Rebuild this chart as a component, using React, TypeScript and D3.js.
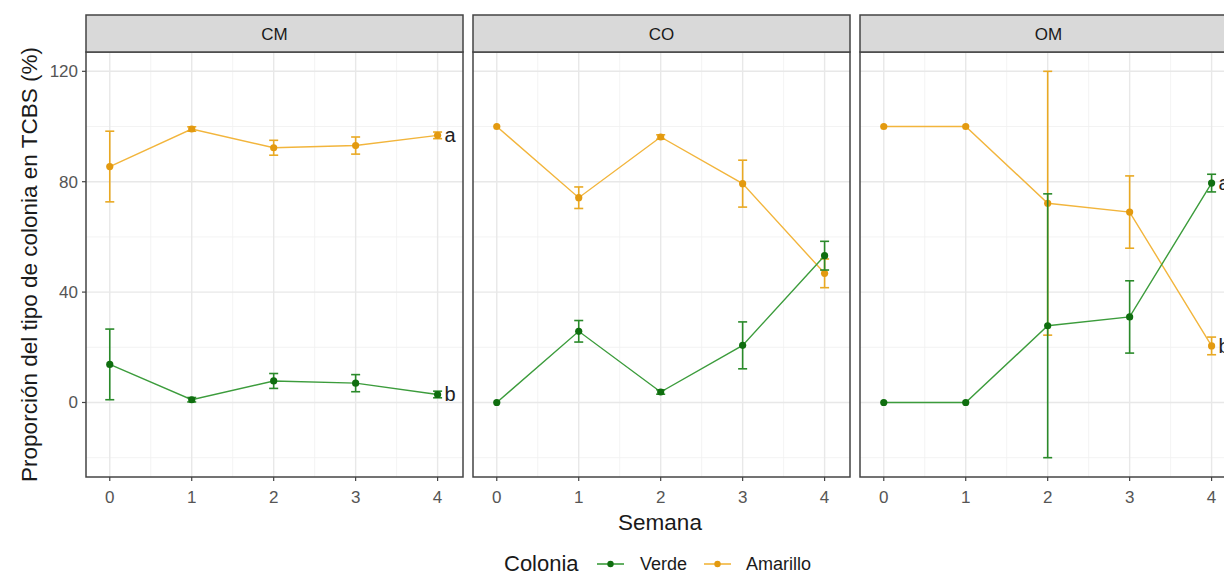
import React from "react";
import * as d3 from "d3";

// Sampling weeks and facets
const weeks = [0, 1, 2, 3, 4];
const facets = ["CM", "CO", "OM"];
const colonias = ["Verde", "Amarillo"];

// Mean proportion (%) of each colony type per week, with its error (±)
const verdeCM = [13.8, 1.0, 7.8, 7.0, 2.9];
const amarilloCM = [85.5, 99.1, 92.3, 93.1, 96.8];
const errCM = [12.8, 0.8, 2.7, 3.1, 1.2];

const verdeCO = [0, 25.8, 3.8, 20.7, 53.2];
const amarilloCO = [100, 74.2, 96.2, 79.3, 46.8];
const errCO = [0, 3.9, 0.8, 8.5, 5.2];

const verdeOM = [0, 0, 27.8, 31.0, 79.5];
const amarilloOM = [100, 100, 72.2, 69.0, 20.5];
const errOM = [0, 0, 47.8, 13.1, 3.2];

// Axis breaks
const yTicks = [0, 40, 80, 120];
const yMinor = [-20, 20, 60, 100];
const xMinor = [0.5, 1.5, 2.5, 3.5];

// Letters marking significant differences at the last week
const letterFacets = ["CM", "CM", "OM", "OM"];
const letterColonias = ["Amarillo", "Verde", "Verde", "Amarillo"];
const letterTexts = ["a", "b", "a", "b"];

const seriesByFacet: Record<string, Record<string, number[]>> = {
  CM: { Verde: verdeCM, Amarillo: amarilloCM },
  CO: { Verde: verdeCO, Amarillo: amarilloCO },
  OM: { Verde: verdeOM, Amarillo: amarilloOM },
};
const errByFacet: Record<string, number[]> = { CM: errCM, CO: errCO, OM: errOM };

const palette: Record<string, { line: string; bar: string; point: string }> = {
  Verde: { line: "#3c9c3c", bar: "#2a8a2a", point: "#0f6e0f" },
  Amarillo: { line: "#f2b53c", bar: "#e9a923", point: "#e39a10" },
};

const FONT = "'Liberation Sans', Arial, sans-serif";
const W = 1224;
const H = 573;
const panelLeft0 = 86;
const panelW = 377;
const panelPitch = 387;
const stripTop = 15;
const panelTop = 52;
const panelBottom = 477;

export default function App() {
  const y = d3.scaleLinear().domain([-27, 127]).range([panelBottom, panelTop]);
  const drawOrder = ["Amarillo", "Verde"];

  return (
    <svg
      width={W}
      height={H}
      style={{ position: "absolute", left: 0, top: 0, background: "#fff", overflow: "hidden" }}
      fontFamily={FONT}
    >
      {facets.map((facet, fi) => {
        const left = panelLeft0 + fi * panelPitch;
        const x = d3.scaleLinear().domain([-0.29, 4.31]).range([left, left + panelW]);
        const line = d3
          .line<number>()
          .x((_, i) => x(weeks[i]))
          .y((d) => y(d));
        const err = errByFacet[facet];
        const capHalf = x(0.055) - x(0);
        return (
          <g key={facet}>
            {/* panel background and grid */}
            <rect x={left} y={panelTop} width={panelW} height={panelBottom - panelTop} fill="#fff" />
            {yMinor.map((v) => (
              <line key={"ym" + v} x1={left} x2={left + panelW} y1={y(v)} y2={y(v)} stroke="#f0f0f0" strokeWidth={0.8} />
            ))}
            {xMinor.map((v) => (
              <line key={"xm" + v} x1={x(v)} x2={x(v)} y1={panelTop} y2={panelBottom} stroke="#f0f0f0" strokeWidth={0.8} />
            ))}
            {yTicks.map((v) => (
              <line key={"yM" + v} x1={left} x2={left + panelW} y1={y(v)} y2={y(v)} stroke="#e8e8e8" strokeWidth={1.4} />
            ))}
            {weeks.map((v) => (
              <line key={"xM" + v} x1={x(v)} x2={x(v)} y1={panelTop} y2={panelBottom} stroke="#e8e8e8" strokeWidth={1.4} />
            ))}

            {/* series: error bars, lines, points */}
            {drawOrder.map((col) => {
              const vals = seriesByFacet[facet][col];
              const c = palette[col];
              return (
                <g key={col}>
                  <path d={line(vals) || ""} fill="none" stroke={c.line} strokeWidth={1.4} />
                  {vals.map((v, i) =>
                    err[i] > 0 ? (
                      <g key={"e" + i} stroke={c.bar} strokeWidth={1.6}>
                        <line x1={x(weeks[i])} x2={x(weeks[i])} y1={y(v - err[i])} y2={y(v + err[i])} />
                        <line x1={x(weeks[i]) - capHalf} x2={x(weeks[i]) + capHalf} y1={y(v - err[i])} y2={y(v - err[i])} />
                        <line x1={x(weeks[i]) - capHalf} x2={x(weeks[i]) + capHalf} y1={y(v + err[i])} y2={y(v + err[i])} />
                      </g>
                    ) : null
                  )}
                  {vals.map((v, i) => (
                    <circle key={"p" + i} cx={x(weeks[i])} cy={y(v)} r={3.6} fill={c.point} />
                  ))}
                </g>
              );
            })}

            {/* letters */}
            {letterTexts.map((t, li) =>
              letterFacets[li] === facet ? (
                <text
                  key={"l" + li}
                  x={x(4) + 7}
                  y={y(seriesByFacet[facet][letterColonias[li]][4]) + 7}
                  fontSize={20}
                  fill="#222"
                >
                  {t}
                </text>
              ) : null
            )}

            {/* panel border */}
            <rect x={left} y={panelTop} width={panelW} height={panelBottom - panelTop} fill="none" stroke="#444" strokeWidth={1.5} />

            {/* strip */}
            <rect x={left} y={stripTop} width={panelW} height={panelTop - stripTop} fill="#d9d9d9" stroke="#444" strokeWidth={1.5} />
            <text x={left + panelW / 2} y={(stripTop + panelTop) / 2 + 6} textAnchor="middle" fontSize={17} fill="#1a1a1a">
              {facet}
            </text>

            {/* x axis */}
            {weeks.map((v) => (
              <g key={"xt" + v}>
                <line x1={x(v)} x2={x(v)} y1={panelBottom} y2={panelBottom + 4} stroke="#444" strokeWidth={1.2} />
                <text x={x(v)} y={panelBottom + 26} textAnchor="middle" fontSize={17} fill="#555">
                  {v}
                </text>
              </g>
            ))}

            {/* y axis on the first facet only */}
            {fi === 0 &&
              yTicks.map((v) => (
                <g key={"yt" + v}>
                  <line x1={left - 4} x2={left} y1={y(v)} y2={y(v)} stroke="#444" strokeWidth={1.2} />
                  <text x={left - 8} y={y(v) + 6} textAnchor="end" fontSize={17} fill="#555">
                    {v}
                  </text>
                </g>
              ))}
          </g>
        );
      })}

      {/* axis titles */}
      <text
        transform={`translate(37,${(panelTop + panelBottom) / 2}) rotate(-90)`}
        textAnchor="middle"
        fontSize={22.5}
        fill="#1a1a1a"
      >
        Proporción del tipo de colonia en TCBS (%)
      </text>
      <text x={660} y={530} textAnchor="middle" fontSize={22.5} fill="#1a1a1a">
        Semana
      </text>

      {/* legend */}
      <g>
        <text x={504} y={571} fontSize={22} fill="#1a1a1a">
          Colonia
        </text>
        {colonias.map((col, i) => {
          const kx = [597, 704][i];
          const c = palette[col];
          return (
            <g key={col}>
              <line x1={kx} x2={kx + 27} y1={564} y2={564} stroke={c.line} strokeWidth={1.6} />
              <circle cx={kx + 13.5} cy={564} r={3.2} fill={c.point} />
              <text x={[640, 746][i]} y={570} fontSize={18} fill="#1a1a1a">
                {col}
              </text>
            </g>
          );
        })}
      </g>
    </svg>
  );
}
